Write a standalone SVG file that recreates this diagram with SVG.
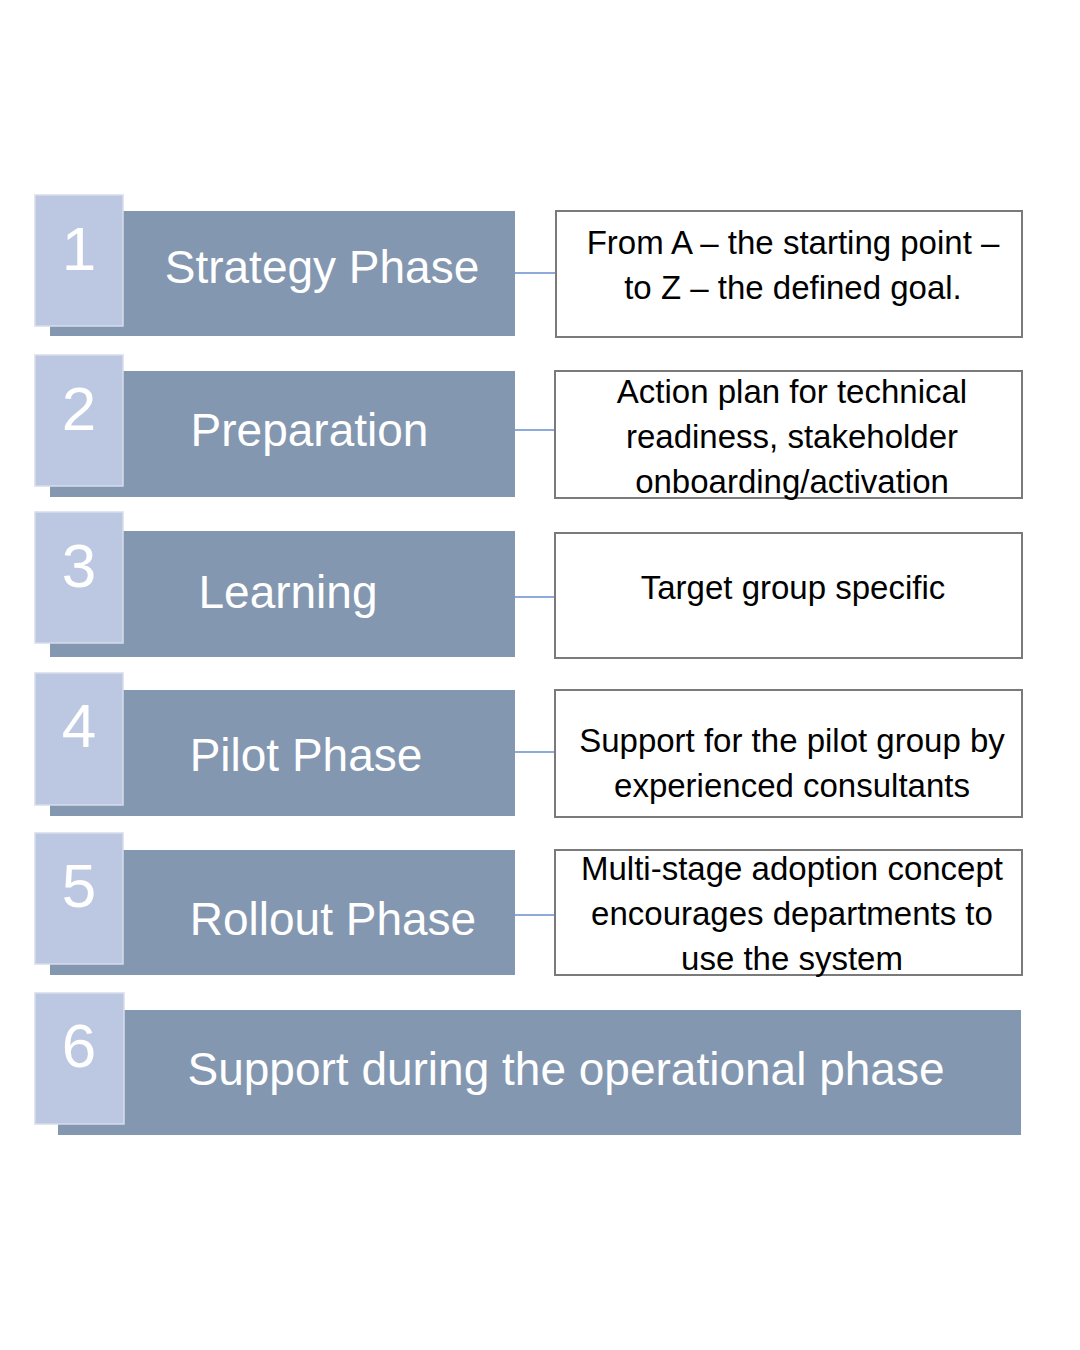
<svg xmlns="http://www.w3.org/2000/svg" width="1080" height="1350" viewBox="0 0 1080 1350">
<style>
.bar{fill:#8497b0;}
.sq{fill:#bcc8e2;stroke:#d6dcea;stroke-width:1.5;}
.num{font-family:"Liberation Sans",Arial,sans-serif;font-size:62px;fill:#ffffff;text-anchor:middle;}
.lbl{font-family:"Liberation Sans",Arial,sans-serif;font-size:46px;fill:#ffffff;text-anchor:middle;}
.box{fill:#ffffff;stroke:#7a7a7a;stroke-width:2;}
.desc{font-family:"Liberation Sans",Arial,sans-serif;font-size:33px;fill:#000000;text-anchor:middle;}
.conn{stroke:#8eaadb;stroke-width:2;fill:none;}
</style>
<rect width="1080" height="1350" fill="#ffffff"/>
<g id="connectors">
<line class="conn" x1="515" y1="273" x2="556" y2="273"/>
<line class="conn" x1="515" y1="430" x2="555" y2="430"/>
<line class="conn" x1="515" y1="597" x2="555" y2="597"/>
<line class="conn" x1="515" y1="752" x2="555" y2="752"/>
<line class="conn" x1="515" y1="915" x2="555" y2="915"/>
</g>
<g id="phase1">
<rect class="bar" x="50" y="211" width="465" height="125"/>
<rect class="sq" x="35" y="195" width="88" height="131"/>
<text class="num" x="79" y="270">1</text>
<text class="lbl" x="322" y="283">Strategy Phase</text>
</g>
<g id="desc1">
<rect class="box" x="556" y="211" width="466" height="126"/>
<text class="desc" x="793" y="254">From A – the starting point –</text>
<text class="desc" x="793" y="299">to Z – the defined goal.</text>
</g>
<g id="phase2">
<rect class="bar" x="50" y="371" width="465" height="126"/>
<rect class="sq" x="35" y="355" width="88" height="131"/>
<text class="num" x="79" y="430">2</text>
<text class="lbl" x="309.5" y="446">Preparation</text>
</g>
<g id="desc2">
<rect class="box" x="555" y="371" width="467" height="127"/>
<text class="desc" x="792" y="403">Action plan for technical</text>
<text class="desc" x="792" y="448">readiness, stakeholder</text>
<text class="desc" x="792" y="493">onboarding/activation</text>
</g>
<g id="phase3">
<rect class="bar" x="50" y="531" width="465" height="126"/>
<rect class="sq" x="35" y="512" width="88" height="131"/>
<text class="num" x="79" y="587">3</text>
<text class="lbl" x="288" y="608">Learning</text>
</g>
<g id="desc3">
<rect class="box" x="555" y="533" width="467" height="125"/>
<text class="desc" x="793" y="599">Target group specific</text>
</g>
<g id="phase4">
<rect class="bar" x="50" y="690" width="465" height="126"/>
<rect class="sq" x="35" y="673" width="88" height="132"/>
<text class="num" x="79" y="747">4</text>
<text class="lbl" x="306" y="771">Pilot Phase</text>
</g>
<g id="desc4">
<rect class="box" x="555" y="690" width="467" height="127"/>
<text class="desc" x="792" y="752">Support for the pilot group by</text>
<text class="desc" x="792" y="797">experienced consultants</text>
</g>
<g id="phase5">
<rect class="bar" x="50" y="850" width="465" height="125"/>
<rect class="sq" x="35" y="833" width="88" height="131"/>
<text class="num" x="79" y="907">5</text>
<text class="lbl" x="333" y="935">Rollout Phase</text>
</g>
<g id="desc5">
<rect class="box" x="555" y="850" width="467" height="125"/>
<text class="desc" x="792" y="880">Multi-stage adoption concept</text>
<text class="desc" x="792" y="925">encourages departments to</text>
<text class="desc" x="792" y="970">use the system</text>
</g>
<g id="phase6">
<rect class="bar" x="58" y="1010" width="963" height="125"/>
<rect class="sq" x="35" y="993" width="89" height="131"/>
<text class="num" x="79" y="1067">6</text>
<text class="lbl" x="566" y="1085">Support during the operational phase</text>
</g>
</svg>
